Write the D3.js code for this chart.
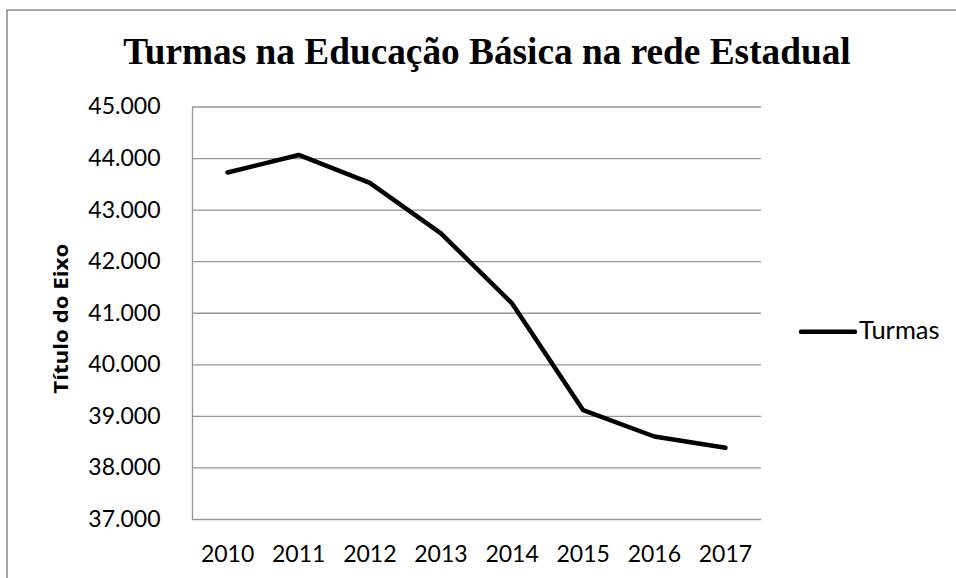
<!DOCTYPE html>
<html>
<head>
<meta charset="utf-8">
<script src="https://cdn.jsdelivr.net/npm/d3@7"></script>
<style>
  html, body { margin: 0; padding: 0; background: #fff; }
  svg { display: block; }
</style>
</head>
<body>
<svg id="chart" width="956" height="578"></svg>
<script>
const title = "Turmas na Educação Básica na rede Estadual";
const yAxisTitle = "Título do Eixo";
const seriesName = "Turmas";
const years = ["2010", "2011", "2012", "2013", "2014", "2015", "2016", "2017"];
const turmas = [43720, 44060, 43520, 42540, 41180, 39110, 38600, 38380];
const yTicks = [37000, 38000, 39000, 40000, 41000, 42000, 43000, 44000, 45000];

const svg = d3.select("#chart");
const W = 956, H = 578;
const plot = { left: 192, right: 761, top: 106.5, bottom: 519 };
const sansFont = "Lato, 'Open Sans', sans-serif";

// outer border
svg.append("rect")
  .attr("x", 7).attr("y", 10)
  .attr("width", W + 10).attr("height", H + 10)
  .attr("fill", "#fff").attr("stroke", "#8c8c8c").attr("stroke-width", 1.5);

// title
svg.append("text")
  .attr("x", 487).attr("y", 64)
  .attr("text-anchor", "middle")
  .attr("font-family", "'Liberation Serif', 'Times New Roman', serif")
  .attr("font-weight", "bold")
  .attr("font-size", 37.3)
  .attr("fill", "#000")
  .text(title);

const x = d3.scaleBand().domain(years).range([plot.left, plot.right]);
const y = d3.scaleLinear().domain([37000, 45000]).range([plot.bottom, plot.top]);

const fmt = v => d3.format(",")(v).replace(/,/g, ".");

// gridlines
svg.append("g")
  .attr("transform", `translate(${plot.left},0)`)
  .call(d3.axisLeft(y).tickValues(yTicks).tickSize(-(plot.right - plot.left)).tickFormat(""))
  .call(g => g.select(".domain").remove())
  .call(g => g.selectAll("line").attr("stroke", "#969696").attr("stroke-width", 1.3));

// y axis labels
svg.append("g")
  .attr("transform", `translate(${plot.left},0)`)
  .call(d3.axisLeft(y).tickValues(yTicks).tickSize(0).tickPadding(31.5).tickFormat(fmt))
  .call(g => g.select(".domain").attr("stroke", "#969696").attr("stroke-width", 1.3))
  .call(g => g.selectAll("text")
    .attr("font-family", sansFont).attr("font-size", 23).attr("fill", "#000"));

// x axis labels
svg.append("g")
  .attr("transform", `translate(0,${plot.bottom})`)
  .call(d3.axisBottom(x).tickSize(0).tickPadding(26.4))
  .call(g => g.select(".domain").remove())
  .call(g => g.selectAll("text")
    .attr("font-family", sansFont).attr("font-size", 23).attr("fill", "#000"));

// y axis title
svg.append("text")
  .attr("transform", `translate(68,${(plot.top + plot.bottom) / 2 + 6}) rotate(-90)`)
  .attr("text-anchor", "middle")
  .attr("font-family", "'Open Sans', Lato, sans-serif")
  .attr("font-weight", "bold")
  .attr("font-size", 20)
  .attr("textLength", 150)
  .attr("lengthAdjust", "spacingAndGlyphs")
  .attr("fill", "#000")
  .text(yAxisTitle);

// line
const line = d3.line()
  .x((d, i) => x(years[i]) + x.bandwidth() / 2)
  .y(d => y(d));

svg.append("path")
  .datum(turmas)
  .attr("d", line)
  .attr("fill", "none")
  .attr("stroke", "#000")
  .attr("stroke-width", 4.5)
  .attr("stroke-linejoin", "round")
  .attr("stroke-linecap", "round");

// legend
const leg = svg.append("g").attr("transform", "translate(801,331.7)");
leg.append("line")
  .attr("x1", 0).attr("x2", 54).attr("y1", 0).attr("y2", 0)
  .attr("stroke", "#000").attr("stroke-width", 4.5).attr("stroke-linecap", "round");
leg.append("text")
  .attr("x", 58).attr("y", 7.5)
  .attr("font-family", sansFont).attr("font-size", 25.5).attr("fill", "#000")
  .text(seriesName);
</script>
</body>
</html>
